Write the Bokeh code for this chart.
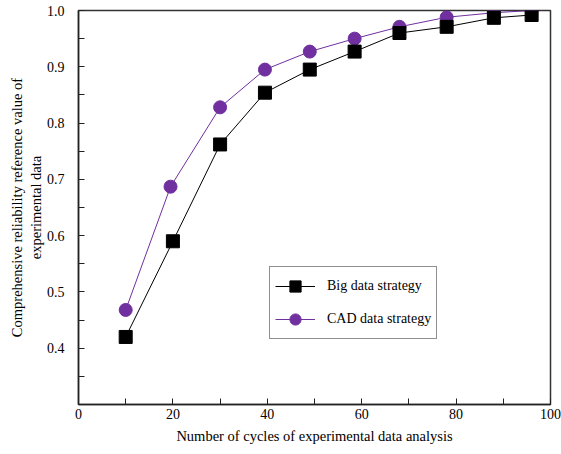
from bokeh.plotting import figure
from bokeh.models import FixedTicker, PrintfTickFormatter, Legend, LegendItem, Range1d, LinearAxis
from bokeh.embed import file_html
from bokeh.resources import INLINE

# Data
x_big = [10, 20, 30, 39.5, 49, 58.5, 68, 78, 88, 96]
y_big = [0.420, 0.590, 0.762, 0.854, 0.895, 0.927, 0.960, 0.971, 0.987, 0.992]
x_cad = [10, 19.5, 30, 39.5, 49, 58.5, 68, 78, 88, 96]
y_cad = [0.468, 0.687, 0.828, 0.895, 0.927, 0.950, 0.971, 0.988, 0.996, 1.000]

x_ticks = [0, 20, 40, 60, 80, 100]
x_minor = [10, 30, 50, 70, 90]
y_ticks = [0.4, 0.5, 0.6, 0.7, 0.8, 0.9, 1.0]
y_minor = [0.35, 0.45, 0.55, 0.65, 0.75, 0.85, 0.95]

y_title_lines = ["Comprehensive reliability reference value of", "experimental data"]
x_title = "Number of cycles of experimental data analysis"

FONT = "Liberation Serif"
PURPLE = "#7030A0"

p = figure(width=561, height=454, output_backend="svg", toolbar_location=None,
           x_range=Range1d(0, 100), y_range=Range1d(0.3, 1.0),
           min_border_left=78, min_border_right=11, min_border_top=10,
           min_border_bottom=50)
p.xgrid.visible = False
p.ygrid.visible = False
p.outline_line_color = "#333333"
p.outline_line_width = 1.5
p.background_fill_color = "white"
p.border_fill_color = "white"

l_cad = p.line(x_cad, y_cad, line_color=PURPLE, line_width=1)
m_cad = p.scatter(x_cad, y_cad, marker="circle", size=13, fill_color=PURPLE,
                  line_color=PURPLE)
l_big = p.line(x_big, y_big, line_color="black", line_width=1)
m_big = p.scatter(x_big, y_big, marker="square", size=13, fill_color="black",
                  line_color="black")

for ax in (p.xaxis[0], p.yaxis[0]):
    ax.axis_line_color = "#222222"
    ax.axis_line_width = 1.5
    ax.major_tick_in = 6
    ax.major_tick_out = 0
    ax.minor_tick_in = 6
    ax.minor_tick_out = 0
    ax.major_tick_line_color = "#222222"
    ax.minor_tick_line_color = "#222222"
    ax.major_label_text_font = FONT
    ax.major_label_text_font_size = "14px"
    ax.major_label_text_color = "black"
    ax.axis_label_text_font = FONT
    ax.axis_label_text_font_size = "14.5px"
    ax.axis_label_text_font_style = "normal"
    ax.axis_label_text_color = "black"

p.xaxis[0].ticker = FixedTicker(ticks=x_ticks, minor_ticks=x_minor)
p.xaxis[0].formatter = PrintfTickFormatter(format="%d")
p.xaxis[0].major_label_standoff = 4
p.xaxis[0].axis_label = x_title
p.xaxis[0].axis_label_standoff = 6

p.yaxis[0].ticker = FixedTicker(ticks=y_ticks, minor_ticks=y_minor)
p.yaxis[0].formatter = PrintfTickFormatter(format="%.1f")
p.yaxis[0].major_label_standoff = 14
p.yaxis[0].axis_label = y_title_lines[1]
p.yaxis[0].axis_label_standoff = 0

# outer (first) line of the y title as a bare extra axis
outer = LinearAxis(axis_label=y_title_lines[0], ticker=FixedTicker(ticks=[]),
                   axis_line_color=None, major_tick_line_color=None,
                   minor_tick_line_color=None, major_tick_in=0, major_tick_out=0,
                   minor_tick_in=0, minor_tick_out=0, major_label_standoff=0,
                   major_label_text_font_size="0px", axis_label_standoff=0,
                   axis_label_text_font=FONT, axis_label_text_font_size="14.5px",
                   axis_label_text_font_style="normal", axis_label_text_color="black")
p.add_layout(outer, "left")

legend = Legend(items=[
    LegendItem(label="Big data strategy", renderers=[l_big, m_big]),
    LegendItem(label="CAD data strategy", renderers=[l_cad, m_cad]),
], location=(191, 65))
legend.border_line_color = "#222222"
legend.border_line_width = 1
legend.background_fill_alpha = 1
legend.padding = 5
legend.spacing = 5
legend.glyph_width = 40
legend.glyph_height = 28
legend.label_height = 28
legend.label_standoff = 12
legend.label_text_font = FONT
legend.label_text_font_size = "14px"
legend.label_text_color = "black"
legend.margin = 0
p.add_layout(legend, "center")

open("out.html", "w").write(file_html(p, INLINE))
